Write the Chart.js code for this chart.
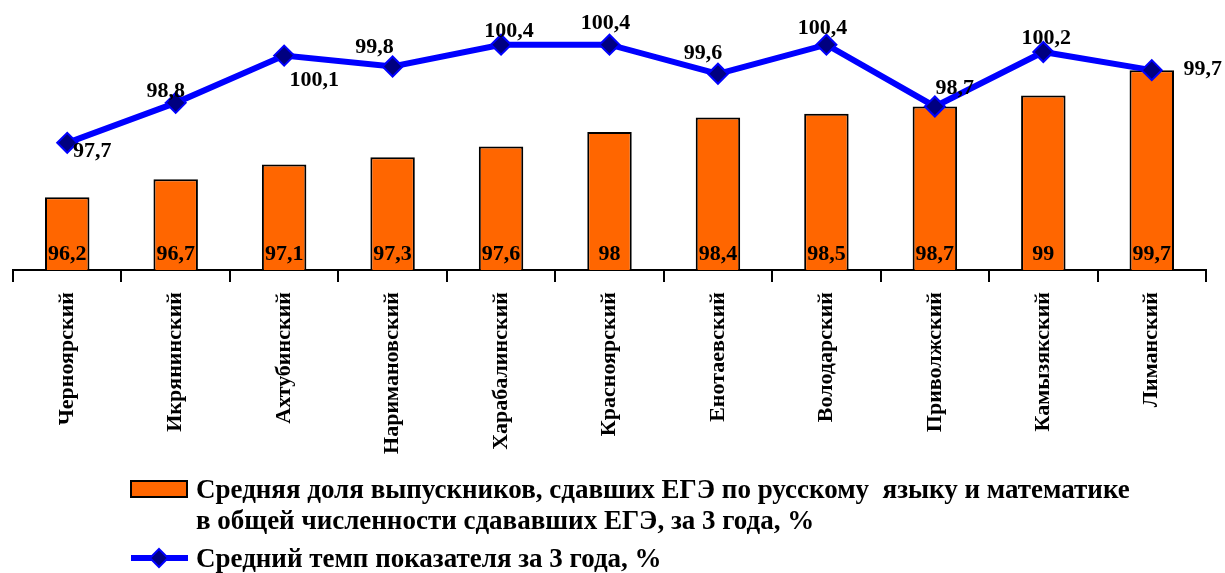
<!DOCTYPE html>
<html>
<head>
<meta charset="utf-8">
<script src="https://cdn.jsdelivr.net/npm/chart.js@4/dist/chart.umd.min.js"></script>
<style>
    html, body { margin: 0; padding: 0; background: #fff; }
    #wrap { width: 1225px; height: 573px; position: relative; }
</style>
</head>
<body>
<div id="wrap"><canvas id="egeChart"></canvas></div>
<script>
const districts = ['Черноярский', 'Икрянинский', 'Ахтубинский', 'Наримановский', 'Харабалинский',
    'Красноярский', 'Енотаевский', 'Володарский', 'Приволжский', 'Камызякский', 'Лиманский'];
const shareValues = [96.2, 96.7, 97.1, 97.3, 97.6, 98, 98.4, 98.5, 98.7, 99, 99.7];
const rateValues = [97.7, 98.8, 100.1, 99.8, 100.4, 100.4, 99.6, 100.4, 98.7, 100.2, 99.7];
const shareLabel = ['Средняя доля выпускников, сдавших ЕГЭ по русскому  языку и математике',
    'в общей численности сдававших ЕГЭ, за 3 года, %'];
const rateLabel = ['Средний темп показателя за 3 года, %'];

const FONT = "'Liberation Serif', 'Times New Roman', serif";
const fmt = v => String(v).replace('.', ',');

// label offsets from each line point (dx, dy to text centre)
const rateLabelOffsets = [[25, 8], [-10, -12], [30, 25], [-18, -19], [8, -13], [-4, -21],
    [-15, -20], [-4, -16], [20, -18], [3, -14], [51, -1]];

const valueLabels = {
    id: 'valueLabels',
    afterDatasetsDraw(chart) {
        const ctx = chart.ctx;
        ctx.save();
        ctx.font = 'bold 22px ' + FONT;
        ctx.fillStyle = '#000';
        ctx.textAlign = 'center';
        ctx.textBaseline = 'middle';

        const bars = chart.getDatasetMeta(1).data;
        bars.forEach((bar, i) => {
            ctx.fillText(fmt(shareValues[i]), bar.x, chart.chartArea.bottom - 16);
        });

        const points = chart.getDatasetMeta(0).data;
        points.forEach((pt, i) => {
            const off = rateLabelOffsets[i];
            ctx.fillText(fmt(rateValues[i]), pt.x + off[0], pt.y + off[1]);
        });
        ctx.restore();
    }
};

const bottomLegend = {
    id: 'bottomLegend',
    afterDraw(chart) {
        const ctx = chart.ctx;
        const barDs = chart.data.datasets[1];
        const lineDs = chart.data.datasets[0];
        ctx.save();
        ctx.font = 'bold 27px ' + FONT;
        ctx.textAlign = 'left';
        ctx.textBaseline = 'alphabetic';

        // bar swatch
        ctx.fillStyle = barDs.backgroundColor;
        ctx.fillRect(131, 481, 56, 16);
        ctx.strokeStyle = '#000';
        ctx.lineWidth = 2;
        ctx.strokeRect(131, 481, 56, 16);
        ctx.fillStyle = '#000';
        ctx.fillText(shareLabel[0], 196, 498);
        ctx.fillText(shareLabel[1], 196, 529);

        // line swatch
        ctx.strokeStyle = lineDs.borderColor;
        ctx.lineWidth = 6;
        ctx.beginPath();
        ctx.moveTo(131, 558);
        ctx.lineTo(188, 558);
        ctx.stroke();
        ctx.beginPath();
        ctx.moveTo(159, 549);
        ctx.lineTo(168, 558);
        ctx.lineTo(159, 567);
        ctx.lineTo(150, 558);
        ctx.closePath();
        ctx.fillStyle = lineDs.pointBackgroundColor;
        ctx.fill();
        ctx.lineWidth = 2;
        ctx.stroke();
        ctx.fillStyle = '#000';
        ctx.fillText(rateLabel[0], 196, 567);
        ctx.restore();
    }
};

new Chart(document.getElementById('egeChart'), {
    type: 'bar',
    data: {
        labels: districts,
        datasets: [{
            type: 'line',
            label: rateLabel.join(' '),
            data: rateValues,
            borderColor: '#0000FF',
            borderWidth: 6,
            pointStyle: 'rectRot',
            pointRadius: 10,
            pointBackgroundColor: '#000080',
            pointBorderColor: '#0000FF',
            pointBorderWidth: 2,
            tension: 0,
            order: 0
        }, {
            label: shareLabel.join(' '),
            data: shareValues,
            backgroundColor: '#FF6600',
            borderColor: '#000',
            borderWidth: 2,
            borderSkipped: false,
            barPercentage: 0.41,
            categoryPercentage: 1,
            order: 1
        }]
    },
    options: {
        responsive: true,
        maintainAspectRatio: false,
        animation: false,
        layout: { padding: { left: 13, right: 19, top: 6, bottom: 113 } },
        plugins: {
            legend: { display: false },
            tooltip: { enabled: false }
        },
        scales: {
            x: {
                grid: {
                    offset: true,
                    drawOnChartArea: false,
                    drawTicks: true,
                    tickLength: 12,
                    color: '#000',
                    lineWidth: 2
                },
                border: { display: true, color: '#000', width: 2 },
                ticks: {
                    color: '#000',
                    font: { family: FONT, size: 22, weight: 'bold' },
                    minRotation: 90,
                    maxRotation: 90,
                    padding: 10,
                    autoSkip: false
                },
                afterFit(scale) { scale.height = 190; }
            },
            y: {
                display: false,
                min: 94.2,
                max: 101.3
            }
        }
    },
    plugins: [valueLabels, bottomLegend]
});
</script>
</body>
</html>
